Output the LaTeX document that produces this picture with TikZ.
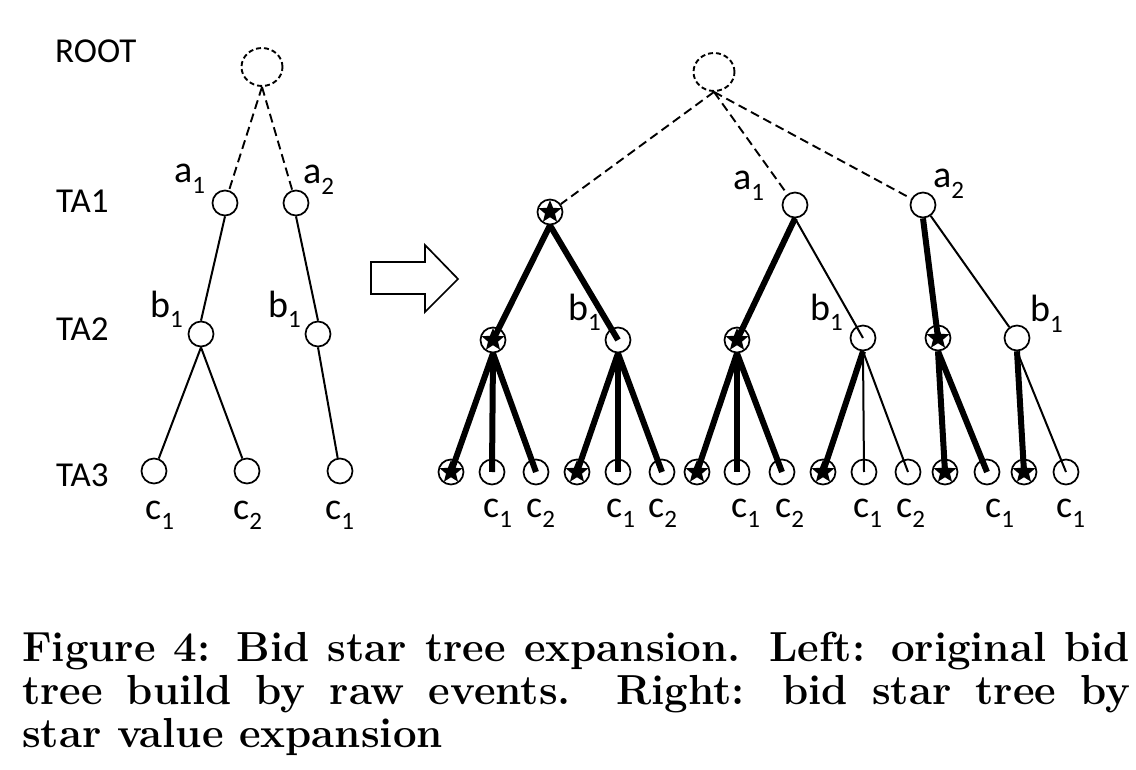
\documentclass[tikz,border=0pt]{standalone}
\usepackage{fontspec}
\newfontfamily\carl{Carlito}
\usetikzlibrary{shapes.geometric}
\newcommand\sbs[2]{#1\raisebox{-10.5pt}{\fontsize{25}{25}\selectfont #2}}
\begin{document}
\begin{tikzpicture}[x=1pt,y=-1pt,
  nd/.style={circle, draw, line width=1.7pt, fill=white, minimum size=25pt, inner sep=0pt},
  stnd/.style={nd, path picture={\node[star, star points=5, star point ratio=2.3, fill=black, minimum size=24pt, inner sep=0pt] at (path picture bounding box.center) {};}},
  rootnd/.style={ellipse, draw, line width=1.9pt, dash pattern=on 5pt off 3pt, minimum width=41pt, minimum height=38pt, inner sep=0pt},
  lvl/.style={font=\carl\fontsize{35}{35}\selectfont, inner sep=0pt, anchor=base west},
  lab/.style={font=\carl\fontsize{38}{38}\selectfont, inner sep=0pt, anchor=base west},
  ethin/.style={line width=2pt},
  ethick/.style={line width=6pt},
  dsh/.style={line width=1.9pt, dash pattern=on 9pt off 5pt},
]
\useasboundingbox (0,0) rectangle (1136,770);

% ---------- level labels ----------
\node[lvl] (lroot) at (55,63) {ROOT};
\node[lvl] (lta1) at (56,213) {TA1};
\node[lvl] (lta2) at (56,341) {TA2};
\node[lvl] (lta3) at (56,486) {TA3};

% ---------- left tree ----------
\node[rootnd] (r) at (262,67) {};
\node[nd] (a1) at (225,203) {};
\node[nd] (a2) at (296,203) {};
\node[nd] (b1) at (201,334) {};
\node[nd] (b2) at (318,334) {};
\node[nd] (c1) at (154,471) {};
\node[nd] (c2) at (247,471) {};
\node[nd] (c3) at (340,471) {};

\draw[dsh] (r.south) -- (a1);
\draw[dsh] (r.south) -- (a2);
\draw[ethin] (a1.south) -- (b1.north);
\draw[ethin] (a2.south) -- (b2.north);
\draw[ethin] (b1.south) -- (c1);
\draw[ethin] (b1.south) -- (c2);
\draw[ethin] (b2.south) -- (c3);

\node[lab] (ta1) at (174,183) {\sbs{a}{1}};
\node[lab] (ta2) at (303,184) {\sbs{a}{2}};
\node[lab] (tb1) at (150,317) {\sbs{b}{1}};
\node[lab] (tb2) at (268,317) {\sbs{b}{1}};
\node[lab] (tc1) at (145,519) {\sbs{c}{1}};
\node[lab] (tc2) at (233,519) {\sbs{c}{2}};
\node[lab] (tc3) at (325,519) {\sbs{c}{1}};

% ---------- arrow ----------
\draw[line width=1.7pt, fill=white, line join=miter]
  (371,262) -- (425,262) -- (425,245) -- (458,279) -- (425,312) -- (425,294) -- (371,294) -- cycle;

% ---------- right tree ----------
\node[rootnd] (R) at (714,72) {};
\node[stnd] (A0) at (550,212) {};
\node[nd] (A1) at (795,205) {};
\node[nd] (A2) at (923,205) {};

\node[stnd] (S1) at (493,340) {};
\node[nd]   (B1) at (618,340) {};
\node[stnd] (S2) at (737,340) {};
\node[nd]   (B2) at (863,338) {};
\node[stnd] (S3) at (938,338) {};
\node[nd]   (B3) at (1017,338) {};

\node[stnd] (L1) at (451,472) {};
\node[nd]   (L2) at (492,472) {};
\node[nd]   (L3) at (536,472) {};
\node[stnd] (L4) at (577,472) {};
\node[nd]   (L5) at (618,472) {};
\node[nd]   (L6) at (662,472) {};
\node[stnd] (L7) at (697,472) {};
\node[nd]   (L8) at (737,472) {};
\node[nd]   (L9) at (782,472) {};
\node[stnd] (L10) at (823,472) {};
\node[nd]   (L11) at (864,472) {};
\node[nd]   (L12) at (908,472) {};
\node[stnd] (L13) at (945,472) {};
\node[nd]   (L14) at (987,472) {};
\node[stnd] (L15) at (1024,472) {};
\node[nd]   (L16) at (1066,472) {};

\draw[dsh] (R.south) -- (A0);
\draw[dsh] (R.south) -- (A1);
\draw[dsh] (R.south) -- (A2);

\draw[ethick] (A0.south) -- (S1.center);
\draw[ethick] (A0.south) -- (B1.center);
\draw[ethick] (S1.south) -- (L1.center);
\draw[ethick] (S1.south) -- (L2.center);
\draw[ethick] (S1.south) -- (L3.center);
\draw[ethick] (B1.south) -- (L4.center);
\draw[ethick] (B1.south) -- (L5.center);
\draw[ethick] (B1.south) -- (L6.center);

\draw[ethick] (A1.south) -- (S2.center);
\draw[ethin]  (A1.south) -- (B2.center);
\draw[ethick] (S2.south) -- (L7.center);
\draw[ethick] (S2.south) -- (L8.center);
\draw[ethick] (S2.south) -- (L9.center);
\draw[ethick] (B2.south) -- (L10.center);
\draw[ethin]  (B2.south) -- (L11.center);
\draw[ethin]  (B2.south) -- (L12.center);

\draw[ethick] (A2.south) -- (S3.center);
\draw[ethin]  (A2) -- (B3);
\draw[ethick] (S3.south) -- (L13.center);
\draw[ethick] (S3.south) -- (L14.center);
\draw[ethick] (B3.south) -- (L15.center);
\draw[ethin]  (B3.south) -- (L16.center);

\node[lab] (tA1) at (733,190) {\sbs{a}{1}};
\node[lab] (tA2) at (933,188) {\sbs{a}{2}};
\node[lab] (tB1) at (568,320) {\sbs{b}{1}};
\node[lab] (tB2) at (810,320) {\sbs{b}{1}};
\node[lab] (tB3) at (1030,322) {\sbs{b}{1}};

\node[lab] (tL2)  at (483,517) {\sbs{c}{1}};
\node[lab] (tL3)  at (526,517) {\sbs{c}{2}};
\node[lab] (tL5)  at (606,517) {\sbs{c}{1}};
\node[lab] (tL6)  at (648,517) {\sbs{c}{2}};
\node[lab] (tL8)  at (731,517) {\sbs{c}{1}};
\node[lab] (tL9)  at (775,517) {\sbs{c}{2}};
\node[lab] (tL11) at (853,517) {\sbs{c}{1}};
\node[lab] (tL12) at (896,517) {\sbs{c}{2}};
\node[lab] (tL14) at (985,517) {\sbs{c}{1}};
\node[lab] (tL16) at (1056,517) {\sbs{c}{1}};

% ---------- caption ----------
\node[anchor=base west, inner sep=0pt] (cap) at (22,661) {\parbox[t]{1108pt}{\fontsize{42}{43}\selectfont\bfseries\tolerance=10000\noindent
Figure 4: Bid star tree expansion. Left: original bid\linebreak
tree build by raw events. Right: bid star tree by\linebreak
star value expansion}};
\end{tikzpicture}
\end{document}
